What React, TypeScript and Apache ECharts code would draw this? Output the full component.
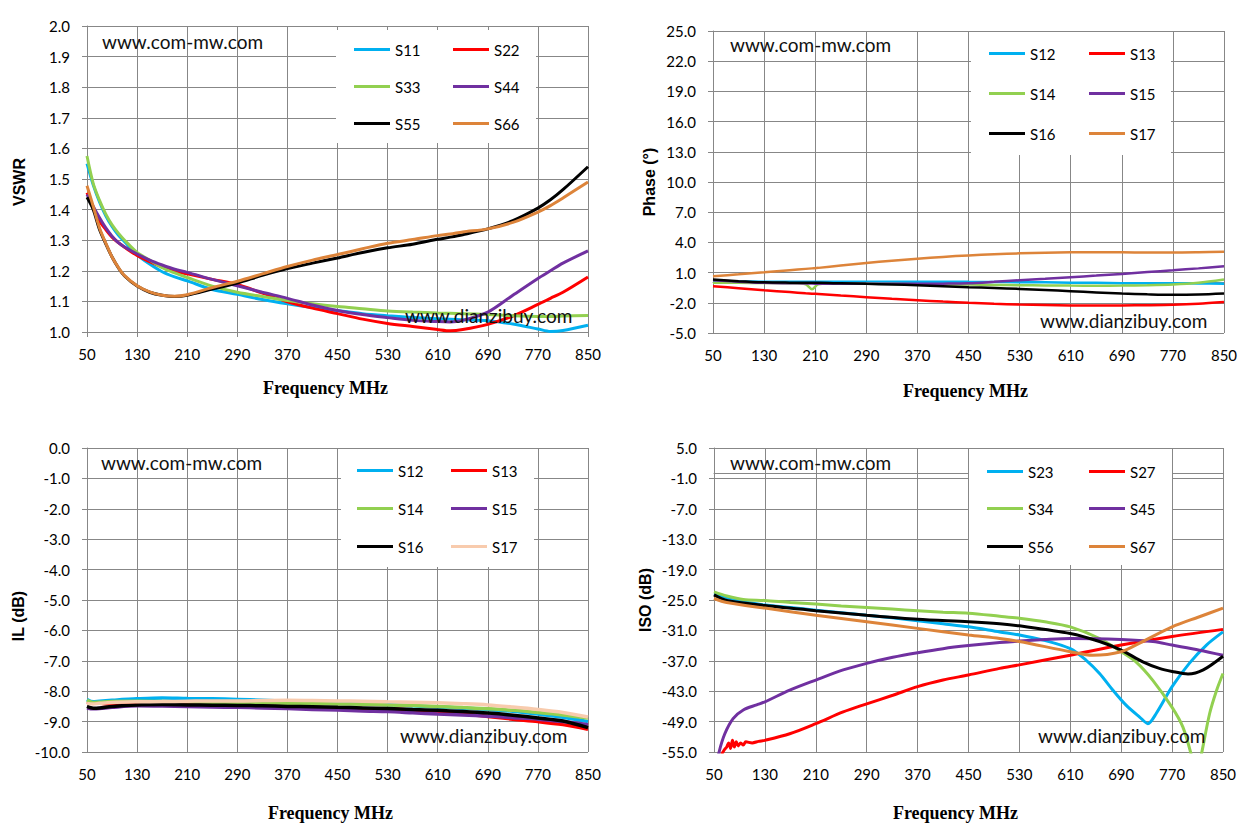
import React, { useEffect, useRef } from "react";
import * as echarts from "echarts";

const W = 1257;
const H = 839;

// ---------- shared ----------
const X_MIN = 50;
const X_MAX = 850;
const X_STEP = 80;
const X_NAME = "Frequency MHz";
const WM1 = "www.com-mw.com";
const WM2 = "www.dianzibuy.com";

const C_CYAN = "#00B0F0";
const C_RED = "#FF0000";
const C_GREEN = "#92D050";
const C_PURPLE = "#7030A0";
const C_BLACK = "#000000";
const C_ORANGE = "#DD843A";
const C_PEACH = "#F8CBAD";
const GRID_C = "#878787";

// ---------- chart 1 : VSWR ----------
const VSWR_F = [50, 60, 70, 80, 90, 100, 110, 130, 150, 170, 190, 210, 250, 290, 330, 370, 410, 450, 490, 530, 570, 610, 630, 650, 690, 730, 770, 790, 810, 850];
const VSWR_S11 = [1.55, 1.48, 1.425, 1.38, 1.345, 1.317, 1.295, 1.252, 1.222, 1.197, 1.18, 1.167, 1.139, 1.123, 1.106, 1.092, 1.08, 1.07, 1.06, 1.053, 1.047, 1.043, 1.042, 1.04, 1.037, 1.026, 1.01, 1.002, 1.005, 1.022];
const VSWR_S22 = [1.455, 1.405, 1.363, 1.335, 1.31, 1.292, 1.277, 1.25, 1.23, 1.212, 1.198, 1.19, 1.172, 1.155, 1.127, 1.099, 1.078, 1.06, 1.042, 1.028, 1.018, 1.008, 1.004, 1.008, 1.025, 1.052, 1.09, 1.11, 1.13, 1.18];
const VSWR_S33 = [1.575, 1.485, 1.43, 1.385, 1.35, 1.323, 1.3, 1.26, 1.235, 1.21, 1.193, 1.178, 1.15, 1.13, 1.116, 1.103, 1.092, 1.083, 1.076, 1.069, 1.065, 1.062, 1.061, 1.06, 1.057, 1.053, 1.051, 1.051, 1.052, 1.054];
const VSWR_S44 = [1.45, 1.41, 1.373, 1.34, 1.313, 1.292, 1.278, 1.255, 1.235, 1.219, 1.205, 1.195, 1.172, 1.151, 1.13, 1.11, 1.088, 1.07, 1.057, 1.047, 1.038, 1.034, 1.033, 1.038, 1.065, 1.12, 1.175, 1.2, 1.225, 1.265];
const VSWR_S55 = [1.44, 1.4, 1.335, 1.288, 1.245, 1.21, 1.183, 1.15, 1.13, 1.12, 1.116, 1.12, 1.14, 1.16, 1.185, 1.207, 1.225, 1.242, 1.26, 1.275, 1.287, 1.303, 1.31, 1.318, 1.337, 1.364, 1.405, 1.432, 1.465, 1.54];
const VSWR_S66 = [1.478, 1.41, 1.34, 1.29, 1.245, 1.211, 1.184, 1.151, 1.131, 1.12, 1.117, 1.122, 1.145, 1.166, 1.19, 1.214, 1.235, 1.253, 1.272, 1.29, 1.302, 1.315, 1.32, 1.327, 1.337, 1.358, 1.392, 1.413, 1.438, 1.49];

// ---------- chart 2 : Phase ----------
const PH_F = [50, 90, 130, 170, 195, 205, 215, 250, 290, 330, 370, 410, 450, 490, 530, 570, 610, 650, 690, 730, 770, 810, 850];
const PH_S12 = [0.15, 0.12, 0.1, 0.1, 0.1, 0.1, 0.1, 0.1, 0.1, 0.1, 0.1, 0.1, 0.08, 0.06, 0.05, 0.03, 0.0, -0.02, -0.05, -0.06, -0.06, -0.08, -0.1];
const PH_S13 = [-0.35, -0.55, -0.75, -0.93, -1.05, -1.09, -1.13, -1.28, -1.44, -1.6, -1.74, -1.88, -2.0, -2.1, -2.17, -2.22, -2.26, -2.27, -2.26, -2.24, -2.2, -2.1, -1.93];
const PH_S14 = [-0.02, -0.02, -0.03, -0.05, -0.15, -0.65, -0.15, -0.07, -0.09, -0.12, -0.15, -0.17, -0.19, -0.22, -0.25, -0.27, -0.29, -0.3, -0.29, -0.26, -0.19, -0.02, 0.31];
const PH_S15 = [0.24, 0.1, -0.02, -0.06, -0.08, -0.09, -0.1, -0.11, -0.12, -0.12, -0.12, -0.1, -0.06, 0.08, 0.24, 0.38, 0.54, 0.7, 0.87, 1.05, 1.23, 1.42, 1.63];
const PH_S16 = [0.31, 0.15, 0.04, 0.0, -0.01, -0.02, -0.02, -0.07, -0.12, -0.18, -0.25, -0.35, -0.45, -0.53, -0.62, -0.73, -0.85, -0.97, -1.08, -1.16, -1.21, -1.18, -1.08];
const PH_S17 = [0.64, 0.83, 1.03, 1.24, 1.37, 1.42, 1.47, 1.7, 1.96, 2.18, 2.38, 2.56, 2.71, 2.82, 2.91, 2.97, 3.01, 3.02, 3.01, 3.0, 3.0, 3.03, 3.08];

// ---------- chart 3 : IL ----------
const IL_F = [50, 60, 70, 90, 130, 170, 210, 250, 290, 330, 370, 410, 450, 490, 530, 570, 610, 650, 690, 730, 770, 810, 850];
const IL_S12 = [-8.27, -8.35, -8.33, -8.3, -8.25, -8.22, -8.24, -8.25, -8.27, -8.3, -8.33, -8.35, -8.38, -8.41, -8.44, -8.48, -8.52, -8.56, -8.6, -8.66, -8.75, -8.86, -9.0];
const IL_S13 = [-8.35, -8.4, -8.4, -8.42, -8.42, -8.43, -8.45, -8.47, -8.48, -8.49, -8.5, -8.53, -8.55, -8.57, -8.58, -8.62, -8.67, -8.74, -8.83, -8.92, -9.0, -9.1, -9.25];
const IL_S14 = [-8.3, -8.37, -8.36, -8.34, -8.33, -8.34, -8.35, -8.36, -8.37, -8.38, -8.4, -8.41, -8.42, -8.43, -8.45, -8.47, -8.5, -8.54, -8.58, -8.63, -8.7, -8.78, -8.88];
const IL_S15 = [-8.55, -8.58, -8.57, -8.53, -8.48, -8.49, -8.5, -8.52, -8.53, -8.55, -8.57, -8.6, -8.62, -8.65, -8.67, -8.71, -8.75, -8.78, -8.82, -8.87, -8.92, -9.0, -9.1];
const IL_S16 = [-8.5, -8.56, -8.55, -8.5, -8.45, -8.44, -8.45, -8.46, -8.47, -8.48, -8.5, -8.51, -8.53, -8.55, -8.57, -8.6, -8.63, -8.67, -8.72, -8.79, -8.88, -8.98, -9.2];
const IL_S17 = [-8.4, -8.42, -8.4, -8.37, -8.35, -8.34, -8.33, -8.32, -8.32, -8.31, -8.3, -8.31, -8.32, -8.33, -8.35, -8.36, -8.38, -8.41, -8.45, -8.52, -8.6, -8.7, -8.85];

// ---------- chart 4 : ISO ----------
const ISO_S23_F = [50, 90, 130, 170, 210, 250, 290, 330, 370, 410, 450, 499, 530, 567, 610, 635, 656, 677, 698, 719, 732, 745, 770, 797, 824, 850];
const ISO_S23 = [-23.8, -25.2, -26.0, -26.5, -27.0, -27.5, -28.0, -28.5, -29.1, -29.7, -30.3, -31.3, -31.9, -32.9, -34.6, -36.9, -39.5, -42.8, -45.8, -48.1, -49.4, -47.4, -42.1, -37.5, -33.9, -31.3];
const ISO_S27_F = [58, 62, 66, 70, 73, 76, 79, 82, 85, 88, 92, 96, 100, 110, 120, 130, 169, 210, 253, 290, 331, 370, 410, 450, 499, 530, 610, 690, 770, 850];
const ISO_S27 = [-57, -55.5, -54.6, -54.0, -53.2, -54.3, -52.7, -54.0, -53.0, -53.8, -53.2, -53.6, -53.0, -53.2, -52.9, -52.7, -51.4, -49.4, -47.1, -45.5, -43.8, -42.1, -40.8, -39.8, -38.5, -37.8, -35.9, -33.9, -32.2, -30.8];
const ISO_S34_F = [50, 70, 96, 130, 170, 210, 250, 290, 330, 370, 410, 450, 499, 530, 570, 610, 656, 690, 714, 740, 770, 787, 800, 808, 816, 829, 840, 850];
const ISO_S34 = [-23.4, -24.2, -24.9, -25.1, -25.5, -25.8, -26.2, -26.5, -26.8, -27.1, -27.4, -27.6, -28.2, -28.6, -29.3, -30.3, -32.6, -35.2, -37.3, -40.9, -46.2, -50.1, -55.5, -60, -55.5, -47.4, -42.8, -39.5];
const ISO_S45_F = [50, 58, 67, 80, 96, 117, 130, 169, 210, 253, 290, 331, 370, 410, 450, 499, 530, 570, 610, 690, 740, 770, 813, 850];
const ISO_S45 = [-60, -55, -51.4, -48.4, -46.7, -45.7, -45.1, -42.8, -40.8, -38.8, -37.5, -36.3, -35.4, -34.6, -34.0, -33.4, -33.1, -32.8, -32.6, -32.8, -33.2, -33.9, -34.9, -35.9];
const ISO_S56_F = [50, 70, 130, 210, 290, 370, 450, 499, 530, 610, 656, 690, 724, 750, 770, 795, 819, 850];
const ISO_S56 = [-24.0, -25.1, -26.1, -27.1, -28.0, -28.8, -29.3, -29.7, -30.1, -31.6, -33.2, -34.9, -37.2, -38.5, -39.1, -39.6, -38.8, -36.1];
const ISO_S67_F = [50, 70, 130, 210, 290, 370, 450, 499, 530, 610, 645, 690, 719, 770, 813, 850];
const ISO_S67 = [-24.7, -25.5, -26.6, -28.0, -29.3, -30.6, -31.9, -32.6, -33.2, -35.2, -35.9, -35.2, -33.5, -30.3, -28.3, -26.6];

type S = { name: string; color: string; x: number[]; y: number[] };
type Cfg = {
  grid: [number, number, number, number];
  yMin: number;
  yMax: number;
  yStep: number;
  yName: string;
  yNameGap: number;
  yNameShift: number;
  xNameGap: number;
  xNameShift: number;
  lw: number;
  series: S[];
  cols: [number, number];
  rows: [number, number, number];
  box: [number, number, number, number];
  wm1: [number, number];
  wm2: [number, number];
};

const TICK_FONT = "Lato";

function buildOption(c: Cfg) {
  const [gl, gt, gw, gh] = c.grid;
  const axisCommon = {
    axisLine: { show: true, lineStyle: { color: GRID_C, width: 1 } },
    axisTick: { show: true, inside: false, length: 5, lineStyle: { color: GRID_C, width: 1 } },
    splitLine: { show: true, lineStyle: { color: GRID_C, width: 1 } },
  };
  return {
    animation: false,
    backgroundColor: "transparent",
    grid: { left: gl, top: gt, width: gw, height: gh, containLabel: false },
    xAxis: {
      type: "value",
      min: X_MIN,
      max: X_MAX,
      interval: X_STEP,
      ...axisCommon,
      axisLabel: { color: "#000", fontSize: 15, fontFamily: TICK_FONT, margin: 14 },
      name: X_NAME,
      nameLocation: "middle",
      nameGap: c.xNameGap,
      nameTextStyle: {
        color: "#000",
        fontFamily: "Liberation Serif",
        fontWeight: "bold",
        fontSize: 18,
        padding: c.xNameShift < 0 ? [0, -2 * c.xNameShift, 0, 0] : [0, 0, 0, 2 * c.xNameShift],
      },
    },
    yAxis: {
      type: "value",
      min: c.yMin,
      max: c.yMax,
      interval: c.yStep,
      ...axisCommon,
      axisLabel: {
        color: "#000",
        fontSize: 15,
        fontFamily: TICK_FONT,
        margin: 17,
        formatter: (v: number) => v.toFixed(1),
      },
      name: c.yName,
      nameLocation: "middle",
      nameGap: c.yNameGap,
      nameTextStyle: {
        color: "#000",
        fontFamily: "Liberation Sans",
        fontWeight: "bold",
        fontSize: 16,
        padding: c.yNameShift > 0 ? [0, 2 * c.yNameShift, 0, 0] : [0, 0, 0, -2 * c.yNameShift],
      },
    },
    legend: c.series.map((s, i) => ({
      show: true,
      left: c.cols[i % 2],
      top: c.rows[Math.floor(i / 2)] - 8,
      padding: 0,
      icon: "rect",
      itemWidth: 36,
      itemHeight: 3,
      selectedMode: false,
      data: [s.name],
      textStyle: { color: "#000", fontSize: 15, fontFamily: TICK_FONT, padding: [0, 0, 0, 0] },
    })),
    graphic: {
      elements: [
        {
          type: "rect",
          silent: true,
          z: 1,
          shape: { x: c.box[0], y: c.box[1], width: c.box[2], height: c.box[3] },
          style: { fill: "#ffffff" },
        },
        {
          type: "text",
          silent: true,
          z: 10,
          x: c.wm1[0],
          y: c.wm1[1],
          style: { text: WM1, font: "19px Lato", fill: "#111", align: "left", verticalAlign: "middle" },
        },
        {
          type: "text",
          silent: true,
          z: 10,
          x: c.wm2[0],
          y: c.wm2[1],
          style: { text: WM2, font: "19px Lato", fill: "#111", align: "left", verticalAlign: "middle" },
        },
      ],
    },
    series: c.series.map((s) => ({
      type: "line",
      name: s.name,
      data: s.x.map((f, k) => [f, s.y[k]]),
      showSymbol: false,
      symbol: "none",
      smooth: 0.3,
      clip: true,
      lineStyle: { color: s.color, width: c.lw },
      itemStyle: { color: s.color },
      z: 2,
    })),
  };
}

const CFG1: Cfg = {
  grid: [87, 26, 501, 306],
  yMin: 1.0,
  yMax: 2.0,
  yStep: 0.1,
  yName: "VSWR",
  yNameGap: 60,
  yNameShift: 3,
  xNameGap: 47,
  xNameShift: -12,
  lw: 3,
  series: [
    { name: "S11", color: C_CYAN, x: VSWR_F, y: VSWR_S11 },
    { name: "S22", color: C_RED, x: VSWR_F, y: VSWR_S22 },
    { name: "S33", color: C_GREEN, x: VSWR_F, y: VSWR_S33 },
    { name: "S44", color: C_PURPLE, x: VSWR_F, y: VSWR_S44 },
    { name: "S55", color: C_BLACK, x: VSWR_F, y: VSWR_S55 },
    { name: "S66", color: C_ORANGE, x: VSWR_F, y: VSWR_S66 },
  ],
  cols: [354, 453],
  rows: [50, 87, 124],
  box: [336, 30, 200, 113],
  wm1: [102, 41],
  wm2: [405, 315],
};

const CFG2: Cfg = {
  grid: [713, 31, 511, 302],
  yMin: -5,
  yMax: 25,
  yStep: 3,
  yName: "Phase (°)",
  yNameGap: 56,
  yNameShift: 0,
  xNameGap: 49,
  xNameShift: -3,
  lw: 2.5,
  series: [
    { name: "S12", color: C_CYAN, x: PH_F, y: PH_S12 },
    { name: "S13", color: C_RED, x: PH_F, y: PH_S13 },
    { name: "S14", color: C_GREEN, x: PH_F, y: PH_S14 },
    { name: "S15", color: C_PURPLE, x: PH_F, y: PH_S15 },
    { name: "S16", color: C_BLACK, x: PH_F, y: PH_S16 },
    { name: "S17", color: C_ORANGE, x: PH_F, y: PH_S17 },
  ],
  cols: [989, 1089],
  rows: [54, 94, 134],
  box: [971, 32, 200, 123],
  wm1: [730, 44],
  wm2: [1040, 320],
};

const CFG3: Cfg = {
  grid: [87, 448, 501, 304],
  yMin: -10,
  yMax: 0,
  yStep: 1,
  yName: "IL (dB)",
  yNameGap: 61,
  yNameShift: 16,
  xNameGap: 52,
  xNameShift: -7,
  lw: 3.5,
  series: [
    { name: "S12", color: C_CYAN, x: IL_F, y: IL_S12 },
    { name: "S13", color: C_RED, x: IL_F, y: IL_S13 },
    { name: "S14", color: C_GREEN, x: IL_F, y: IL_S14 },
    { name: "S15", color: C_PURPLE, x: IL_F, y: IL_S15 },
    { name: "S16", color: C_BLACK, x: IL_F, y: IL_S16 },
    { name: "S17", color: C_PEACH, x: IL_F, y: IL_S17 },
  ],
  cols: [357, 451],
  rows: [471, 509, 547],
  box: [341, 449, 193, 118],
  wm1: [101, 462],
  wm2: [400, 735],
};

const CFG4: Cfg = {
  grid: [714, 448, 509, 304],
  yMin: -55,
  yMax: 5,
  yStep: 6,
  yName: "ISO (dB)",
  yNameGap: 61,
  yNameShift: 0,
  xNameGap: 52,
  xNameShift: -13,
  lw: 3,
  series: [
    { name: "S23", color: C_CYAN, x: ISO_S23_F, y: ISO_S23 },
    { name: "S27", color: C_RED, x: ISO_S27_F, y: ISO_S27 },
    { name: "S34", color: C_GREEN, x: ISO_S34_F, y: ISO_S34 },
    { name: "S45", color: C_PURPLE, x: ISO_S45_F, y: ISO_S45 },
    { name: "S56", color: C_BLACK, x: ISO_S56_F, y: ISO_S56 },
    { name: "S67", color: C_ORANGE, x: ISO_S67_F, y: ISO_S67 },
  ],
  cols: [987, 1089],
  rows: [472, 509, 547],
  box: [969, 449, 203, 116],
  wm1: [730, 462],
  wm2: [1038, 735],
};

function Chart({ cfg }: { cfg: Cfg }) {
  const ref = useRef<HTMLDivElement>(null);
  useEffect(() => {
    if (!ref.current) return;
    const chart = echarts.init(ref.current, undefined, { renderer: "svg", width: W, height: H });
    chart.setOption(buildOption(cfg) as any);
    return () => chart.dispose();
  }, [cfg]);
  return <div ref={ref} style={{ position: "absolute", left: 0, top: 0, width: W, height: H }} />;
}

export default function App() {
  return (
    <div style={{ position: "fixed", left: 0, top: 0, width: W, height: H, background: "#ffffff", overflow: "hidden" }}>
      <Chart cfg={CFG1} />
      <Chart cfg={CFG2} />
      <Chart cfg={CFG3} />
      <Chart cfg={CFG4} />
    </div>
  );
}
